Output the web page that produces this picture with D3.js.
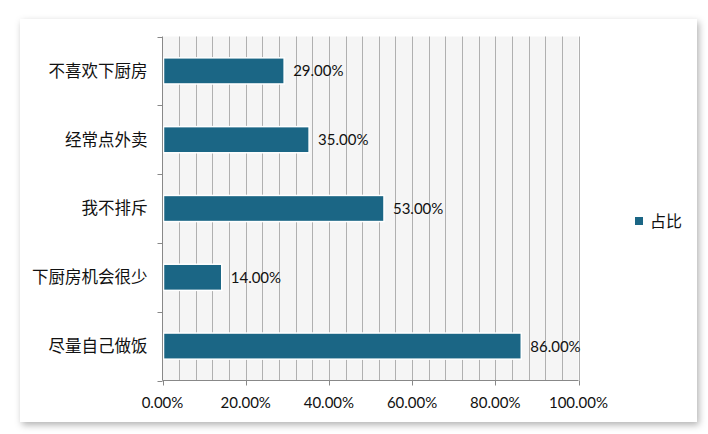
<!DOCTYPE html>
<html><head><meta charset="utf-8">
<script src="https://cdn.jsdelivr.net/npm/d3@7"></script>
<style>body{margin:0;background:#fff;}svg{display:block;}</style>
</head><body>
<svg id="c" width="708" height="434"></svg>
<script>
const categories = ["不喜欢下厨房","经常点外卖","我不排斥","下厨房机会很少","尽量自己做饭"];
const values = [29, 35, 53, 14, 86];
const seriesName = "占比";
const xTicks = [0, 20, 40, 60, 80, 100];
const gridStep = 4;

const svg = d3.select("#c");
const defs = svg.append("defs");
const f = defs.append("filter").attr("id","sh").attr("x","-5%").attr("y","-5%").attr("width","112%").attr("height","115%");
f.append("feDropShadow").attr("dx",2).attr("dy",3).attr("stdDeviation",3.5).attr("flood-color","#000").attr("flood-opacity",0.3);

svg.append("rect").attr("x",20).attr("y",19).attr("width",677).attr("height",403)
  .attr("fill","#fff").attr("filter","url(#sh)");

const m = {l:162.5, r:578.5, t:36.5, b:380.5};
const x = d3.scaleLinear().domain([0,100]).range([m.l, m.r]);
const y = d3.scaleBand().domain(categories).range([m.t, m.b]).paddingInner(0.62).paddingOuter(0.31);
const yb = d3.scaleBand().domain(categories).range([m.t, m.b]);

const g = svg.append("g");
g.append("rect").attr("x",m.l).attr("y",m.t).attr("width",m.r-m.l).attr("height",m.b-m.t).attr("fill","#f5f5f5");
g.selectAll("line.grid").data(d3.range(gridStep,100+0.01,gridStep)).enter().append("line")
  .attr("x1",d=>Math.round(x(d))+0.5).attr("x2",d=>Math.round(x(d))+0.5)
  .attr("y1",m.t).attr("y2",m.b).attr("stroke","#b0b0b0").attr("stroke-width",1);

g.selectAll("rect.bar").data(values).enter().append("rect")
  .attr("x",x(0)+1).attr("y",(d,i)=>y(categories[i]))
  .attr("width",d=>x(d)-x(0)).attr("height",y.bandwidth())
  .attr("fill","#1b6685").attr("stroke","#fff").attr("stroke-width",1.5);

g.selectAll("text.val").data(values).enter().append("text")
  .attr("x",d=>x(d)+10).attr("y",(d,i)=>y(categories[i])+y.bandwidth()/2)
  .attr("dy","0.36em").attr("font-family","Lato, 'Liberation Sans', sans-serif").attr("font-size",15)
  .attr("fill","#111").text(d=>d.toFixed(2)+"%");

// y axis
const ya = svg.append("g").attr("transform",`translate(${m.l},0)`);
ya.append("line").attr("x1",0).attr("x2",0).attr("y1",m.t).attr("y2",m.b).attr("stroke","#888");
const bounds = categories.map(c=>yb(c)).concat([m.b]);
ya.selectAll("line.t").data(bounds).enter().append("line")
  .attr("x1",-5).attr("x2",0).attr("y1",d=>Math.round(d)+0.5).attr("y2",d=>Math.round(d)+0.5).attr("stroke","#888");
ya.selectAll("text").data(categories).enter().append("text")
  .attr("x",-15).attr("y",d=>yb(d)+yb.bandwidth()/2).attr("dy","0.36em")
  .attr("text-anchor","end").attr("font-family","'Noto Sans CJK SC', sans-serif").attr("font-size",16.5)
  .attr("fill","#111").text(d=>d);

// x axis
const xa = svg.append("g").attr("transform",`translate(0,${m.b})`);
xa.append("line").attr("x1",m.l).attr("x2",m.r).attr("y1",0).attr("y2",0).attr("stroke","#888");
xa.selectAll("line.t").data(xTicks).enter().append("line")
  .attr("x1",d=>Math.round(x(d))+0.5).attr("x2",d=>Math.round(x(d))+0.5).attr("y1",0).attr("y2",5).attr("stroke","#888");
xa.selectAll("text").data(xTicks).enter().append("text")
  .attr("x",d=>x(d)).attr("y",22).attr("dy","0.36em").attr("text-anchor","middle")
  .attr("font-family","Lato, 'Liberation Sans', sans-serif").attr("font-size",15).attr("fill","#111")
  .text(d=>d.toFixed(2)+"%");

// legend
const lg = svg.append("g").attr("transform","translate(635,217)");
lg.append("rect").attr("width",8).attr("height",8).attr("fill","#1b6685");
lg.append("text").attr("x",15).attr("y",4).attr("dy","0.36em").attr("font-family","'Noto Sans CJK SC', sans-serif")
  .attr("font-size",16).attr("fill","#111").text(seriesName);
</script>
</body></html>
